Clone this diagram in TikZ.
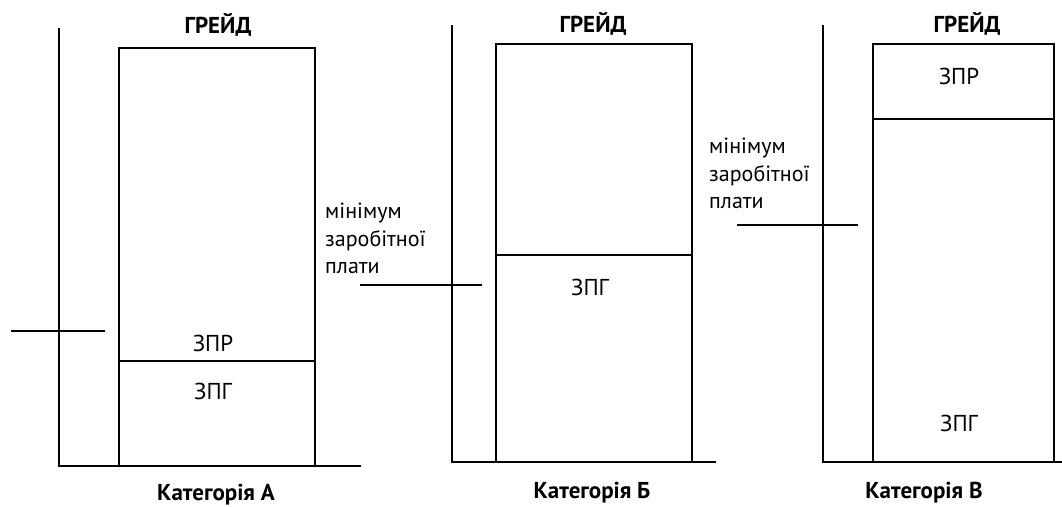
\documentclass[tikz,border=0pt]{standalone}
\usepackage{fontspec}
\setmainfont{PT Sans}
\begin{document}
\begin{tikzpicture}[x=1pt,y=-1pt,
  bar/.style={draw, line width=2pt, minimum width=#1, inner sep=0pt, outer sep=0pt, anchor=north west},
  axis/.style={line width=1.4pt},
  rule/.style={line width=1.3pt},
  lbl/.style={font=\fontsize{23}{26}\selectfont, inner sep=0pt, anchor=base},
  head/.style={font=\bfseries\fontsize{23}{26}\selectfont, inner sep=0pt, anchor=base},
  note/.style={font=\fontsize{22}{26}\selectfont, inner sep=0pt, anchor=base west}]
\useasboundingbox (0,0) rectangle (1062,506);

% --- category A ---
\node[bar=196pt, minimum height=418pt] (boxA) at (119,48) {};
\coordinate (aTop) at (59,28);
\coordinate (aOrg) at (59,466);
\coordinate (aEnd) at (361,466);
\coordinate (aT1) at (11,331);
\coordinate (aT2) at (105,331);
\draw[axis] (aTop) -- (aOrg) -- (aEnd);
\draw[rule] (aT1) -- (aT2);
\draw[rule] (boxA.west |- 0,361) coordinate (aD1) -- (boxA.east |- 0,361) coordinate (aD2);
\node[head] (gA) at (218,33) {ГРЕЙД};
\node[lbl] (rA) at (213,351) {ЗПР};
\node[lbl] (pA) at (213,399) {ЗПГ};
\node[head] (cA) at (216,500) {Категорія А};

% --- category B ---
\node[bar=196pt, minimum height=418pt] (boxB) at (496,44) {};
\coordinate (bTop) at (452,25);
\coordinate (bOrg) at (452,462);
\coordinate (bEnd) at (716,462);
\coordinate (bT1) at (360,285);
\coordinate (bT2) at (482,285);
\draw[axis] (bTop) -- (bOrg) -- (bEnd);
\draw[rule] (bT1) -- (bT2);
\draw[rule] (boxB.west |- 0,255) coordinate (bD1) -- (boxB.east |- 0,255) coordinate (bD2);
\node[head] (gB) at (593,32) {ГРЕЙД};
\node[lbl] (pB) at (590,295) {ЗПГ};
\node[head] (cB) at (592,498) {Категорія Б};
\node[note] (mB1) at (325,218) {мінімум};
\node[note] (mB2) at (325,246) {заробітної};
\node[note] (mB3) at (325,273) {плати};

% --- category V ---
\node[bar=181pt, minimum height=418pt] (boxC) at (873,44) {};
\coordinate (cTop) at (823,25);
\coordinate (cOrg) at (823,462);
\coordinate (cEnd) at (1062,462);
\coordinate (cT1) at (737,225);
\coordinate (cT2) at (858,225);
\draw[axis] (cTop) -- (cOrg) -- (cEnd);
\draw[rule] (cT1) -- (cT2);
\draw[rule] (boxC.west |- 0,119) coordinate (cD1) -- (boxC.east |- 0,119) coordinate (cD2);
\node[head] (gC) at (967,32) {ГРЕЙД};
\node[lbl] (rC) at (959,84) {ЗПР};
\node[lbl] (pC) at (959,431) {ЗПГ};
\node[head] (cC) at (924,498) {Категорія В};
\node[note] (mC1) at (709,153) {мінімум};
\node[note] (mC2) at (709,181) {заробітної};
\node[note] (mC3) at (709,208) {плати};
\end{tikzpicture}
\end{document}
